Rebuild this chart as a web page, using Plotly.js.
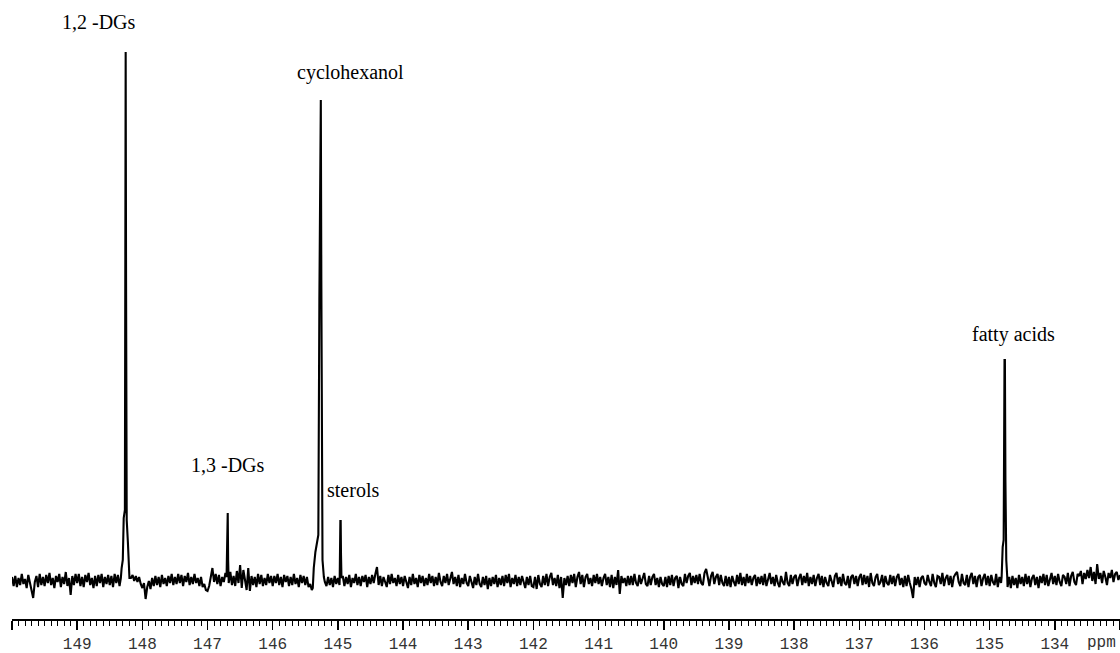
<!DOCTYPE html>
<html>
<head>
<meta charset="utf-8">
<script src="https://cdn.plot.ly/plotly-3.0.1.min.js"></script>
<style>html,body{margin:0;padding:0;background:#fff;}#chart{width:1120px;height:653px;}</style>
</head>
<body>
<div id="chart"></div>
<script>
// Spectrum sampling: first point (ppm) and spacing of the baseline record
const startPpm = 150.0;
const stepPpm = 0.025;

// Baseline (noise) intensities, one row per 0.5 ppm (150.0 -> 133.0)
const baseline = [
  3,-6,4,-7,2,-5,6,-4,1,-8,5,-3,-9,-18,-2,4,-7,6,-5,3,
  -6,5,-3,7,-5,2,-8,4,-2,6,-7,3,-4,8,-6,2,-15,4,-5,6,
  -3,6,-6,3,-7,5,-2,7,-5,2,-8,4,-6,5,-3,6,-7,3,-4,5,
  -5,4,-7,6,-3,5,-6,0,0,0,0,0,0,2,5,-1,4,-2,3,-4,
  -8,-3,-19,-7,-1,-9,2,-6,4,-5,3,-7,5,-4,2,-6,4,-3,6,-5,
  3,-4,6,-3,5,-6,4,-2,7,-5,3,-4,6,-3,2,-6,3,-7,-4,-10,
  -11,-6,4,12,-2,6,-4,5,-6,3,-2,7,0,-3,8,-5,4,-6,9,-3,
  15,-8,10,-3,-10,12,-11,4,-5,3,-7,6,-4,5,-6,2,-5,6,-3,4,
  -6,4,-3,6,-5,3,-7,5,-2,4,-6,3,-5,6,-4,2,-7,5,-3,4,
  -5,3,-7,-4,-9,0,0,0,0,0,0,0,-2,-6,3,-5,2,-7,4,-4,
  2,-5,0,4,-6,3,-4,5,-7,2,-3,6,-5,3,-6,4,-2,5,-7,3,
  -4,5,-3,6,13,-5,4,-6,3,-2,-7,5,-4,6,-3,2,-6,5,-4,3,
  -6,4,-2,-8,3,-5,6,-4,2,-7,5,-3,4,-6,2,-5,6,-3,4,-6,
  3,-5,7,-2,-6,4,-3,6,-5,2,8,-4,3,-6,5,-7,2,-4,6,-3,
  -6,4,-2,-8,3,-5,6,-4,-7,3,-5,4,-9,2,-6,3,-4,5,-7,2,
  -5,4,-6,5,-3,6,-7,2,-4,5,-6,3,-5,4,-2,-8,3,-5,4,-6,
  -7,3,-9,5,-4,-7,4,-5,6,-6,3,7,-5,2,-6,5,-8,3,-18,2,
  -5,4,-6,5,-3,6,-7,3,8,-4,5,-7,3,6,-4,2,-6,5,-3,6,
  -4,3,-6,2,6,-5,3,-7,5,-8,3,-5,10,-14,4,-3,2,-6,4,-5,
  4,-5,6,-3,-6,5,-4,2,7,-4,-6,4,-5,3,6,-5,2,-7,3,-4,
  -6,3,-7,4,-5,5,-6,2,4,-8,3,-4,-6,6,-3,4,7,-5,4,-3,
  5,-4,6,-3,-5,7,11,3,-6,4,8,-4,3,6,-5,5,-3,-6,4,-6,
  3,-7,4,-2,-6,5,-4,7,-5,3,-6,6,-3,4,-5,2,5,-6,3,-4,
  4,-5,6,-6,2,7,-4,3,-6,5,-3,-7,4,-2,-5,8,-3,-6,5,-4,
  3,5,-6,2,6,-5,4,-3,7,-6,3,-4,5,-6,2,6,-5,4,-7,3,
  -3,-6,5,-2,-7,4,7,-4,3,-6,6,-3,-5,4,-8,3,5,-4,4,-6,
  3,6,-5,5,-4,4,-7,7,-3,-6,3,6,-5,-2,5,-7,4,-3,-5,5,
  -4,4,-6,3,6,-5,2,-7,4,-6,5,-3,-9,-18,3,-5,3,-7,2,4,
  -3,-5,5,-2,-6,6,-3,-7,4,3,-4,7,-6,2,5,-5,4,-7,3,6,
  8,-2,-6,6,-3,-5,5,-7,3,7,-4,4,-7,3,5,-6,2,6,-5,4,
  -6,5,-2,-5,6,-7,3,-3,0,0,0,-7,3,-8,4,-5,2,-8,5,-4,
  3,-6,6,-4,4,-7,2,5,-5,3,-8,4,-3,6,-5,5,-6,2,7,-4,
  4,-5,6,-2,-6,5,3,-4,7,-6,4,8,-2,-5,6,4,9,-4,7,1,
  10,2,13,-1,8,-4,16,1,7,-3,9,3,-5,7,2,10,-2,6,8,0,
  5
];

// Resonance profiles (ppm, intensity)
const dg12Ppm  = [148.330,148.318,148.300,148.286,148.268,148.262,148.256,148.250,148.240,148.222,148.212,148.198];
const dg12Int  = [2,12,20,62,70,300,528,300,60,38,15,2];
const dg13Ppm  = [146.708,146.697,146.690,146.684,146.676];
const dg13Int  = [3,67,67,20,3];
const cyhexPpm = [145.400,145.385,145.370,145.345,145.320,145.300,145.284,145.270,145.262,145.254,145.246,145.236,145.215];
const cyhexInt = [-10,-8,12,28,37,45,280,480,480,300,22,20,3];
const sterPpm  = [144.972,144.962,144.957,144.952,144.945];
const sterInt  = [2,59,59,25,2];
const faPpm    = [134.816,134.800,134.785,134.772,134.766,134.758,134.745,134.730];
const faInt    = [3,33,40,220,220,100,20,3];

// Peak labels
const labelTexts = ["1,2 -DGs","1,3 -DGs","cyclohexanol","sterols","fatty acids"];

const peaks = [[dg12Ppm,dg12Int],[dg13Ppm,dg13Int],[cyhexPpm,cyhexInt],[sterPpm,sterInt],[faPpm,faInt]];

let pts = [];
baseline.forEach((v,i)=>{
  const p = startPpm - i*stepPpm;
  const inside = peaks.some(pk => p <= Math.max(...pk[0]) && p >= Math.min(...pk[0]));
  if(!inside) pts.push([p,v]);
});
peaks.forEach(pk => pk[0].forEach((p,j)=>pts.push([p,pk[1][j]])));
pts.sort((a,b)=>b[0]-a[0]);

const trace = {
  x: pts.map(d=>d[0]), y: pts.map(d=>d[1]),
  type:'scatter', mode:'lines',
  line:{color:'#000', width:2.1},
  hoverinfo:'skip'
};

const lblFont = {family:'Liberation Serif, Times New Roman, serif', size:20, color:'#000'};
const labelPos = [[148.665,558],[146.686,115],[144.80,508],[144.768,90],[134.627,246]];
const annotations = labelTexts.map((t,i)=>({
  text:t, x:labelPos[i][0], y:labelPos[i][1], xref:'x', yref:'y',
  showarrow:false, font:lblFont, xanchor:'center', yanchor:'middle'
}));
annotations.push({
  text:'ppm', x:133.537, y:-0.038, xref:'x', yref:'paper',
  showarrow:false, xanchor:'left', yanchor:'middle',
  font:{family:'Liberation Mono, Courier New, monospace', size:16, color:'#333'}
});

const layout = {
  width:1120, height:653,
  margin:{l:12, r:0, t:0, b:34},
  paper_bgcolor:'#fff', plot_bgcolor:'#fff',
  showlegend:false,
  xaxis:{
    range:[150,133], showgrid:false, zeroline:false,
    showline:true, linecolor:'#000', linewidth:1.5,
    ticks:'outside', ticklen:9, tickwidth:1.5, tickcolor:'#000',
    tick0:0, dtick:1,
    tickfont:{family:'Liberation Mono, Courier New, monospace', size:16, color:'#333'},
    minor:{dtick:0.1, ticks:'outside', ticklen:5, tickwidth:1, tickcolor:'#000', showgrid:false}
  },
  yaxis:{range:[-39,580], visible:false, showgrid:false, zeroline:false},
  annotations: annotations
};

Plotly.newPlot('chart',[trace],layout,{staticPlot:true, displayModeBar:false});
</script>
</body>
</html>
